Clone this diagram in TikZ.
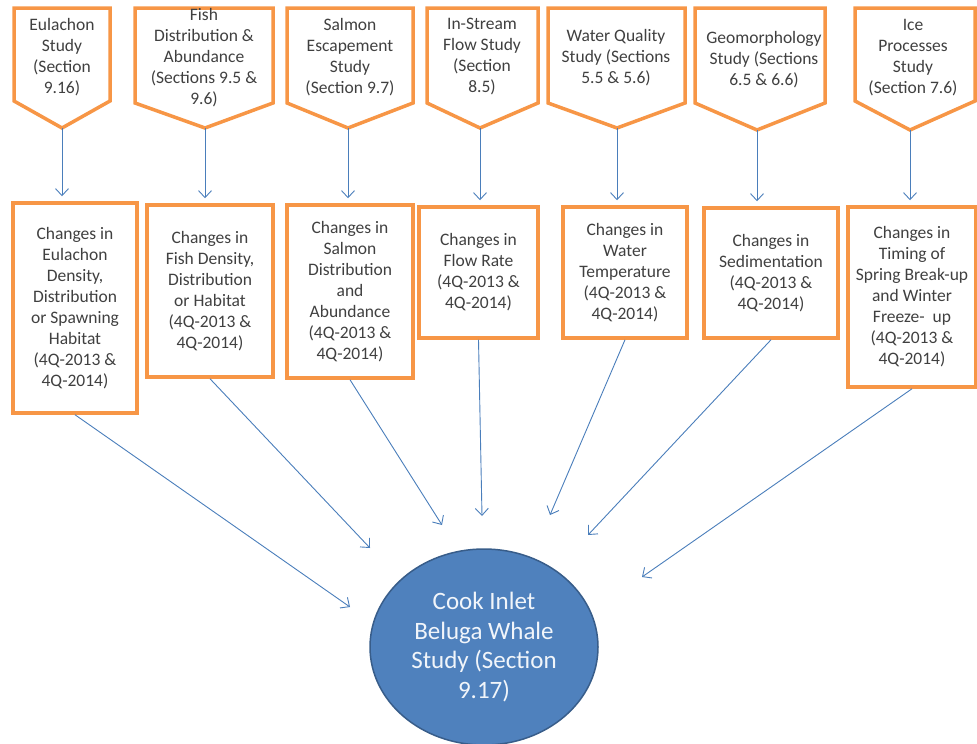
\documentclass[tikz,border=0pt]{standalone}
\usepackage{fontspec}
\setmainfont{Carlito}
\usetikzlibrary{arrows.meta, shapes.geometric}

\definecolor{boxorange}{HTML}{F79646}
\definecolor{linkblue}{HTML}{4A7EBB}
\definecolor{whalefill}{HTML}{4F81BD}
\definecolor{whaleline}{HTML}{385D8A}
\definecolor{txtgray}{HTML}{404040}

\tikzset{
    study/.style={draw=boxorange, line width=3.5pt, fill=white, line join=miter},
    studylabel/.style={font=\fontsize{17.5}{21}\selectfont, text=txtgray, align=center, inner sep=0pt},
    change/.style={studylabel, draw=boxorange, line width=3.5pt, fill=white},
    whale/.style={ellipse, draw=whaleline, line width=1.5pt, fill=whalefill, text=white!92!whalefill,
        font=\fontsize{25}{29.5}\selectfont, align=center, inner sep=0pt,
        minimum width=228pt, minimum height=196pt},
    link/.style={draw=linkblue, line width=0.9pt, -{Straight Barb[length=7pt,width=13pt]}},
}

\begin{document}
\begin{tikzpicture}[x=1pt, y=-1pt]
    \useasboundingbox (0,0) rectangle (977,744);

    % Study pentagons
    \draw[study] (14,8) -- (110,8) -- (110,101) -- (62,128) -- (14,101) -- cycle;
    \draw[study] (135,8) -- (273,8) -- (273,103) -- (205,128) -- (135,103) -- cycle;
    \draw[study] (287,8) -- (413,8) -- (413,103) -- (348,128) -- (287,103) -- cycle;
    \draw[study] (427,8) -- (538,8) -- (538,103) -- (480,128) -- (427,103) -- cycle;
    \draw[study] (548,8) -- (685,8) -- (685,103) -- (617,128) -- (548,103) -- cycle;
    \draw[study] (695,8) -- (825,8) -- (825,103) -- (757,130) -- (695,103) -- cycle;
    \draw[study] (855,8) -- (975,8) -- (975,101) -- (910,130) -- (855,101) -- cycle;

    \coordinate (eulTip) at (62,128);
    \coordinate (fishTip) at (205,128);
    \coordinate (salmonTip) at (348,128);
    \coordinate (flowTip) at (480,128);
    \coordinate (waterTip) at (617,128);
    \coordinate (geoTip) at (757,130);
    \coordinate (iceTip) at (910,130);

    % Study labels
    \node[studylabel] (eulStudy) at (62,57) {Eulachon\\Study\\(Section\\9.16)};
    \node[studylabel] (fishStudy) at (204,58) {Fish\\Distribution \&\\Abundance\\(Sections 9.5 \&\\9.6)};
    \node[studylabel] (salmonStudy) at (350,57) {Salmon\\Escapement\\Study\\(Section 9.7)};
    \node[studylabel] (flowStudy) at (482,57) {In-Stream\\Flow Study\\(Section\\8.5)};
    \node[studylabel] (waterStudy) at (616,58) {Water Quality\\Study (Sections\\5.5 \& 5.6)};
    \node[studylabel] (geoStudy) at (764,60) {Geomorphology\\Study (Sections\\6.5 \& 6.6)};
    \node[studylabel] (iceStudy) at (913,58) {Ice\\Processes\\Study\\(Section 7.6)};

    % Changes boxes
    \node[change, minimum width=124pt, minimum height=210pt] (eulChange) at (75,308)
        {Changes in\\Eulachon\\Density,\\Distribution\\or Spawning\\Habitat\\(4Q-2013 \&\\4Q-2014)};
    \node[change, minimum width=126pt, minimum height=172pt] (fishChange) at (210,291)
        {Changes in\\Fish Density,\\Distribution\\or Habitat\\(4Q-2013 \&\\4Q-2014)};
    \node[change, minimum width=126pt, minimum height=173pt] (salmonChange) at (350,291.5)
        {Changes in\\Salmon\\Distribution\\and\\Abundance\\(4Q-2013 \&\\4Q-2014)};
    \node[change, minimum width=119pt, minimum height=131pt] (flowChange) at (478.5,272.5)
        {Changes in\\Flow Rate\\(4Q-2013 \&\\4Q-2014)};
    \node[change, minimum width=124pt, minimum height=131pt] (waterChange) at (625,272.5)
        {Changes in\\Water\\Temperature\\(4Q-2013 \&\\4Q-2014)};
    \node[change, minimum width=134pt, minimum height=130pt] (geoChange) at (771,273)
        {Changes in\\Sedimentation\\(4Q-2013 \&\\4Q-2014)};
    \node[change, minimum width=128pt, minimum height=180pt] (iceChange) at (912,297)
        {Changes in\\Timing of\\Spring Break-up\\and Winter\\Freeze-\ \ up\\(4Q-2013 \&\\4Q-2014)};

    % Whale study
    \node[whale] (whale) at (484,647) {Cook Inlet\\Beluga Whale\\Study (Section\\9.17)};

    % Down arrows
    \draw[link, shorten >=5pt] (eulTip) -- (eulTip |- eulChange.north);
    \draw[link, shorten >=5pt] (fishTip) -- (fishTip |- fishChange.north);
    \draw[link, shorten >=5pt] (salmonTip) -- (salmonTip |- salmonChange.north);
    \draw[link, shorten >=5pt] (flowTip) -- (flowTip |- flowChange.north);
    \draw[link, shorten >=5pt] (waterTip) -- (waterTip |- waterChange.north);
    \draw[link, shorten >=5pt] (geoTip) -- (geoTip |- geoChange.north);
    \draw[link, shorten >=5pt] (iceTip) -- (iceTip |- iceChange.north);

    % Arrows into the whale study
    \coordinate (eulEnd) at (350,607);
    \coordinate (fishEnd) at (370,548);
    \coordinate (salmonEnd) at (442,525);
    \coordinate (flowEnd) at (482,516);
    \coordinate (waterEnd) at (550,515);
    \coordinate (geoEnd) at (588,535);
    \coordinate (iceEnd) at (642,577);

    \draw[link] (eulChange.south) -- (eulEnd);
    \draw[link] (fishChange.south) -- (fishEnd);
    \draw[link] (salmonChange.south) -- (salmonEnd);
    \draw[link] (flowChange.south) -- (flowEnd);
    \draw[link] (waterChange.south) -- (waterEnd);
    \draw[link] (geoChange.south) -- (geoEnd);
    \draw[link] (iceChange.south) -- (iceEnd);
\end{tikzpicture}
\end{document}
